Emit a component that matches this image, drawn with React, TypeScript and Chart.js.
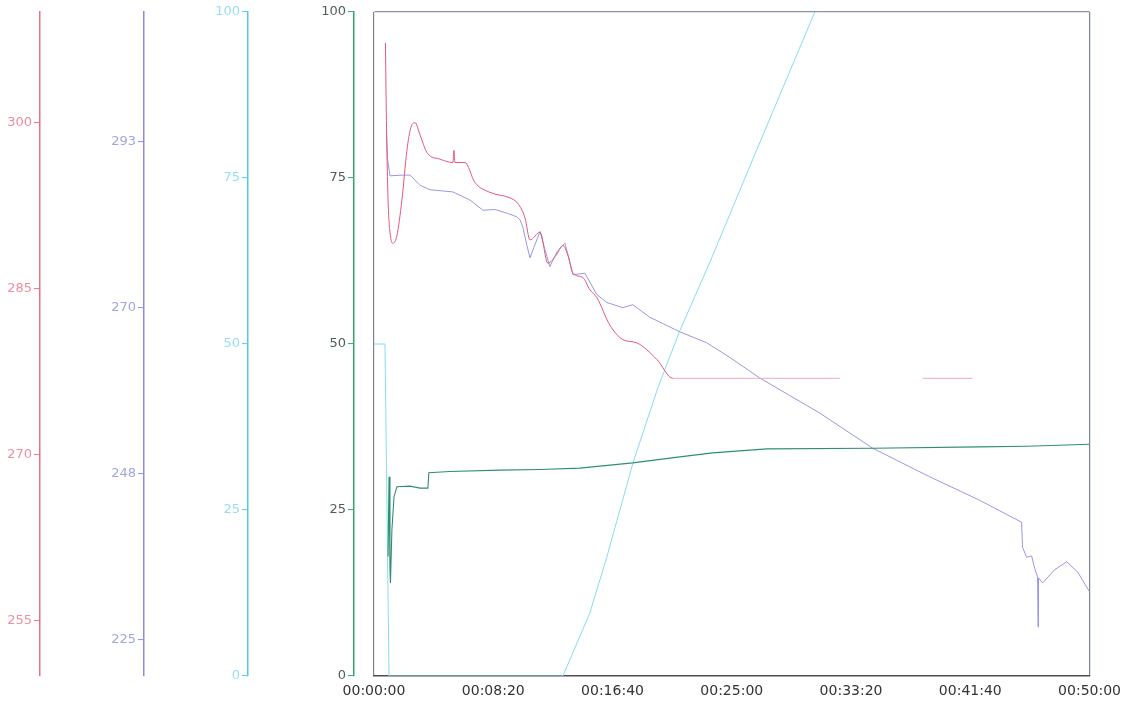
import React, { useEffect, useRef } from "react";
import { Chart, registerables } from "chart.js";

Chart.register(...registerables);

// ---- data ----
const X_TICKS = [0, 500, 1000, 1500, 2000, 2500, 3000];
const PINK_TICKS = [255, 270, 285, 300];
const BLUE_TICKS = [225, 247.67, 270.33, 293];
const PCT_TICKS = [0, 25, 50, 75, 100];

const PINK_T = [48, 52, 59, 67, 80, 96, 117, 138, 155, 172, 193, 222, 277, 331, 335, 339, 381, 423, 486, 570, 603, 633, 654, 696, 729, 763, 792, 813, 834, 876, 905, 934, 989, 1043, 1102, 1186, 1253, 1600, 1953, 2100, 2300, 2510];
const PINK_V = [307.2, 300.2, 293.0, 290.1, 289.1, 289.8, 293.0, 297.5, 299.6, 300.0, 298.9, 297.3, 296.7, 296.4, 297.5, 296.4, 296.4, 294.6, 293.7, 293.2, 292.7, 291.4, 289.4, 290.1, 287.3, 288.0, 288.9, 288.0, 286.4, 286.0, 284.9, 284.2, 281.7, 280.4, 280.1, 278.6, 276.9, 276.9, 276.9, null, 276.9, 276.9];

const BLUE_T = [52, 57, 67, 122, 151, 193, 235, 331, 402, 457, 507, 557, 599, 612, 624, 641, 654, 670, 696, 717, 737, 767, 800, 817, 834, 884, 934, 976, 1043, 1085, 1156, 1282, 1395, 1492, 1617, 1869, 2091, 2330, 2539, 2715, 2719, 2736, 2757, 2770, 2782, 2784, 2786, 2803, 2853, 2904, 2950, 3000];
const BLUE_V = [294.5, 290.5, 288.3, 288.4, 288.4, 287.0, 286.4, 286.1, 285.0, 283.6, 283.7, 283.2, 282.7, 282.3, 281.3, 278.8, 277.1, 278.5, 280.7, 278.2, 275.9, 277.9, 279.1, 277.1, 274.8, 275.0, 272.1, 271.0, 270.3, 270.7, 269.0, 267.0, 265.5, 263.5, 260.7, 255.9, 251.1, 247.2, 244.0, 241.0, 237.6, 236.2, 236.4, 234.7, 233.5, 226.7, 233.4, 232.7, 234.5, 235.6, 234.2, 231.5];

const CYAN_T = [0, 46, 63, 792, 905, 976, 1085, 1190, 1282, 1408, 1617, 1848];
const CYAN_V = [50, 50, 0, 0, 9.5, 17.9, 32, 43.4, 52, 62.3, 80.3, 100];

const GREEN_T = [59, 63, 67, 69, 75, 84, 96, 151, 193, 226, 230, 318, 528, 696, 863, 1085, 1282, 1420, 1647, 2091, 2539, 2736, 3000];
const GREEN_V = [18, 30, 16, 14, 22, 27, 28.5, 28.6, 28.3, 28.3, 30.6, 30.8, 31.0, 31.1, 31.3, 32.1, 33.0, 33.6, 34.2, 34.3, 34.5, 34.6, 34.9];

// ---- helpers ----
const zip = (t: number[], v: (number | null)[]) => t.map((x, i) => ({ x, y: v[i] }));
const fmtTime = (sec: number) => {
  const h = Math.floor(sec / 3600);
  const m = Math.floor((sec % 3600) / 60);
  const s = Math.round(sec % 60);
  return [h, m, s].map((n) => String(n).padStart(2, "0")).join(":");
};

const FONT = { family: "'DejaVu Sans', sans-serif", size: 13 };

function yAxis(opts: any) {
  const { color, labelColor, weight, min, max, ticks, width, label, gridColor } = opts;
  return {
    type: "linear",
    position: "left",
    weight,
    min,
    max,
    afterBuildTicks: (s: any) => {
      s.ticks = ticks.map((v: number) => ({ value: v }));
    },
    afterFit: (s: any) => {
      s.width = width;
    },
    border: { display: true, color, width: 1.5 },
    grid: {
      drawOnChartArea: !!gridColor,
      color: gridColor || "transparent",
      lineWidth: 1.2,
      drawTicks: true,
      tickLength: 6,
      tickColor: color,
      tickWidth: 1,
    },
    ticks: {
      color: labelColor,
      padding: 2,
      font: FONT,
      callback: (v: number) => label(v),
    },
  };
}

export default function App() {
  const ref = useRef<HTMLCanvasElement>(null);

  useEffect(() => {
    if (!ref.current) return;
    const chart = new Chart(ref.current, {
      type: "line",
      data: {
        datasets: [
          {
            data: zip(GREEN_T, GREEN_V),
            yAxisID: "yGreen",
            borderColor: "#2f8f72",
            borderWidth: 1.1,
            pointRadius: 0,
            fill: false,
          },
          {
            data: zip(PINK_T, PINK_V),
            yAxisID: "yPink",
            borderColor: "#e4587a",
            borderWidth: 1,
            pointRadius: 0,
            fill: false,
            spanGaps: false,
            cubicInterpolationMode: "monotone",
            segment: {
              borderColor: (ctx: any) =>
                ctx.p0.parsed.y === ctx.p1.parsed.y && ctx.p0.parsed.x > 1200 ? "#f0a8bc" : undefined,
            },
          },
          {
            data: zip(BLUE_T, BLUE_V),
            yAxisID: "yBlue",
            borderColor: "#9898e8",
            borderWidth: 1,
            pointRadius: 0,
            fill: false,
          },
          {
            data: zip(CYAN_T, CYAN_V),
            yAxisID: "yCyan",
            borderColor: "#86dcf0",
            borderWidth: 1,
            pointRadius: 0,
            fill: false,
          },
        ],
      },
      options: {
        animation: false,
        responsive: true,
        maintainAspectRatio: false,
        events: [],
        layout: { padding: { top: 12, right: 38, left: 0, bottom: 0 } },
        plugins: { legend: { display: false }, tooltip: { enabled: false } },
        scales: {
          x: {
            type: "linear",
            min: 0,
            max: 3000,
            afterBuildTicks: (s: any) => {
              s.ticks = X_TICKS.map((v) => ({ value: v }));
            },
            afterFit: (s: any) => {
              s.height = 25;
            },
            border: { display: true, color: "#4a4e56", width: 1.6 },
            grid: {
              drawTicks: false,
              lineWidth: 1.2,
              color: (ctx: any) =>
                ctx.tick && (ctx.tick.value === 0 || ctx.tick.value === 3000) ? "#7c8494" : "transparent",
            },
            ticks: {
              color: "#333333",
              padding: 7,
              maxRotation: 0,
              autoSkip: false,
              font: { family: "'DejaVu Sans', sans-serif", size: 14 },
              callback: (v: number) => fmtTime(v),
            },
          },
          yPink: yAxis({
            color: "#e8708c",
            labelColor: "#ee8ea2",
            weight: 4,
            min: 250,
            max: 310,
            ticks: PINK_TICKS,
            width: 40,
            label: (v: number) => String(v),
          }),
          yBlue: yAxis({
            color: "#8c8ce6",
            labelColor: "#a2a6de",
            weight: 3,
            min: 220,
            max: 310.67,
            ticks: BLUE_TICKS,
            width: 104,
            label: (v: number) => String(Math.round(v)),
          }),
          yCyan: yAxis({
            color: "#56c8ee",
            labelColor: "#9adcf2",
            weight: 2,
            min: 0,
            max: 100,
            ticks: PCT_TICKS,
            width: 104,
            label: (v: number) => String(v),
          }),
          yGreen: yAxis({
            color: "#2ea86c",
            labelColor: "#4e5e56",
            weight: 1,
            min: 0,
            max: 100,
            ticks: PCT_TICKS,
            width: 106,
            label: (v: number) => String(v),
            gridColor: (ctx: any) => (ctx.tick && ctx.tick.value === 100 ? "#8a92a2" : "transparent"),
          }),
          yPad: {
            type: "linear",
            position: "left",
            weight: 0,
            afterFit: (s: any) => {
              s.width = 20;
            },
            border: { display: false },
            grid: { display: false },
            ticks: { display: false },
          },
        },
      } as any,
    });
    return () => chart.destroy();
  }, []);

  return (
    <div style={{ position: "fixed", left: 0, top: 0, width: 1128, height: 701, background: "#ffffff" }}>
      <canvas ref={ref} />
    </div>
  );
}
